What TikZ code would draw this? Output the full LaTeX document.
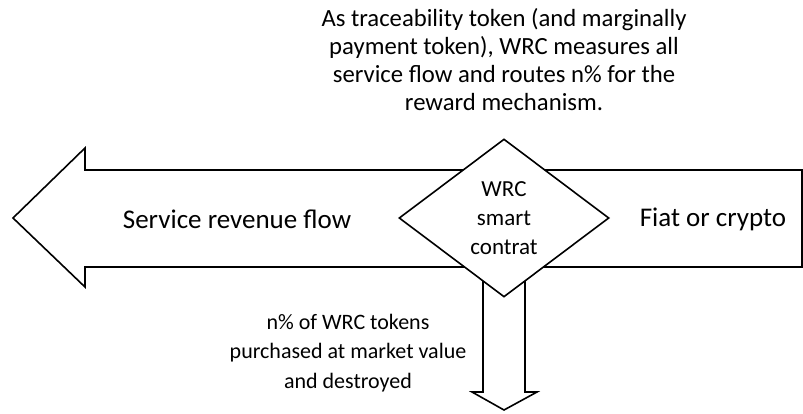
\documentclass[tikz,border=0pt]{standalone}
\usepackage{fontspec}
\setmainfont{Carlito}
\usetikzlibrary{shapes.geometric}
\begin{document}
\begin{tikzpicture}[x=1pt,y=-1pt]
\tikzstyle{outline} = [draw=black,line width=1.6pt,fill=white,line join=miter]
\tikzstyle{flowtext} = [align=center,font=\fontsize{27}{28}\selectfont]
\tikzstyle{notetext} = [align=center,font=\fontsize{24.7}{28}\selectfont]
\useasboundingbox (0,0) rectangle (803,414);

\coordinate (tipL) at (13,218);
\coordinate (tipD) at (504,410);
\draw[outline] (tipD)--(472,392)--(483,392)--(483,267)--(525,267)--(525,392)--(537,392)--cycle;
\draw[outline] (tipL)--(85,148)--(85,170)--(802,170)--(802,267)--(85,267)--(85,287)--cycle;
\node (wrc) at (504,218) [outline,diamond,minimum width=210pt,minimum height=158pt,inner sep=0pt,
  align=center,font=\fontsize{23}{29}\selectfont] {WRC\\smart\\contrat};

\node (service) at (237,219) [flowtext] {Service revenue flow};
\node (fiat) at (713,219) [flowtext] {Fiat or crypto};
\node (route) at (504,60) [notetext] {As traceability token (and marginally\\payment token), WRC measures all\\service flow and routes n\% for the\\reward mechanism.};
\node (burn) at (348,353) [align=center,font=\fontsize{22}{29.5}\selectfont] {n\% of WRC tokens\\purchased at market value\\and destroyed};
\end{tikzpicture}
\end{document}
